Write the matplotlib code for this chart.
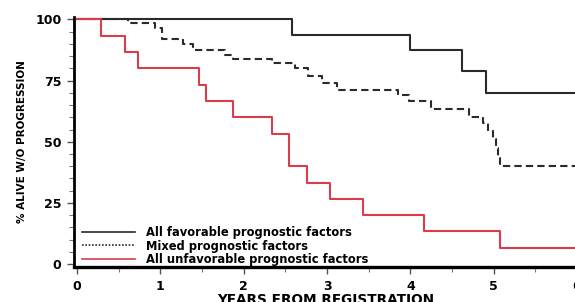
import matplotlib
matplotlib.use("Agg")
import matplotlib.pyplot as plt
from matplotlib.lines import Line2D

# ---- data (years from registration, % alive w/o progression) ----
fav_t = [0, 2.58, 3.99, 4.62, 4.91, 6.0]
fav_v = [100, 93.75, 87.5, 78.75, 70, 70]

mixed_t = [0, 0.61, 0.94, 1.02, 1.27, 1.39, 1.78, 1.87, 2.34, 2.62, 2.77, 2.94,
           3.12, 3.85, 3.98, 4.25, 4.70, 4.87, 4.93, 4.99, 5.03, 5.05, 5.08, 6.0]
mixed_v = [100, 98.5, 96.5, 92, 90, 87.5, 85.5, 84, 82, 80, 77, 74,
           71, 69, 66.5, 63.5, 60, 57.5, 54.5, 51, 47.5, 43.5, 40, 40]

unfav_t = [0, 0.29, 0.58, 0.73, 1.46, 1.55, 1.87, 2.34, 2.54, 2.76, 3.04, 3.43,
           4.16, 5.08, 6.0]
unfav_v = [100, 93.33, 86.67, 80, 73.33, 66.67, 60, 53.33, 40, 33.33, 26.67, 20,
           13.33, 6.67, 6.67]

labels = ["All favorable prognostic factors",
          "Mixed prognostic factors",
          "All unfavorable prognostic factors"]
xticks = [0, 1, 2, 3, 4, 5, 6]
yticks = [0, 25, 50, 75, 100]

BLACK = "#2a2a2a"
RED = "#d63e4c"

plt.rcParams['font.family'] = ['DejaVu Sans']
fig = plt.figure(figsize=(5.75, 3.02), dpi=100)
ax = fig.add_axes([74/575, 35/302, 503/575, 250/302])

ax.step(fav_t, fav_v, where='post', color=BLACK, lw=1.5)
ax.step(mixed_t, mixed_v, where='post', color=BLACK, lw=1.5, linestyle=(0, (3.5, 2)))
ax.step(unfav_t, unfav_v, where='post', color=RED, lw=1.5)

ax.set_xlim(-0.036, 6.0)
ax.set_ylim(-1.2, 101)
ax.set_xticks(xticks)
ax.set_yticks(yticks)
ax.set_xticks([0.5, 1.5, 2.5, 3.5, 4.5, 5.5], minor=True)
ax.set_yticks([v for v in range(5, 100, 5) if v % 25 != 0], minor=True)

for s in ['top', 'right']:
    ax.spines[s].set_visible(False)
ax.spines['left'].set_linewidth(2.0)
ax.spines['bottom'].set_linewidth(2.4)
ax.spines['left'].set_color('black')
ax.spines['bottom'].set_color('black')

ax.tick_params(axis='both', which='major', length=5, width=1.0, color='#555555',
               labelsize=9, pad=4)
ax.tick_params(axis='both', which='minor', length=3.5, width=0.8, color='#777777')
for lab in ax.get_xticklabels() + ax.get_yticklabels():
    lab.set_fontweight('bold')

ax.set_xlabel("YEARS FROM REGISTRATION", fontsize=9.8, fontweight='bold', labelpad=0)
ax.set_ylabel("% ALIVE W/O PROGRESSION", fontsize=7.5, fontweight='bold', labelpad=6)

handles = [Line2D([], [], color=BLACK, lw=1.2),
           Line2D([], [], color=BLACK, lw=1.2, linestyle=(0, (1, 1))),
           Line2D([], [], color=RED, lw=1.2)]
leg = ax.legend(handles, labels, loc='lower left', bbox_to_anchor=(0.016, 0.005),
                frameon=False, handlelength=4.6, handletextpad=0.95,
                labelspacing=0.02, borderpad=0, borderaxespad=0,
                prop={'size': 8.3, 'weight': 'bold'})

fig.savefig("out.png", dpi=100)
